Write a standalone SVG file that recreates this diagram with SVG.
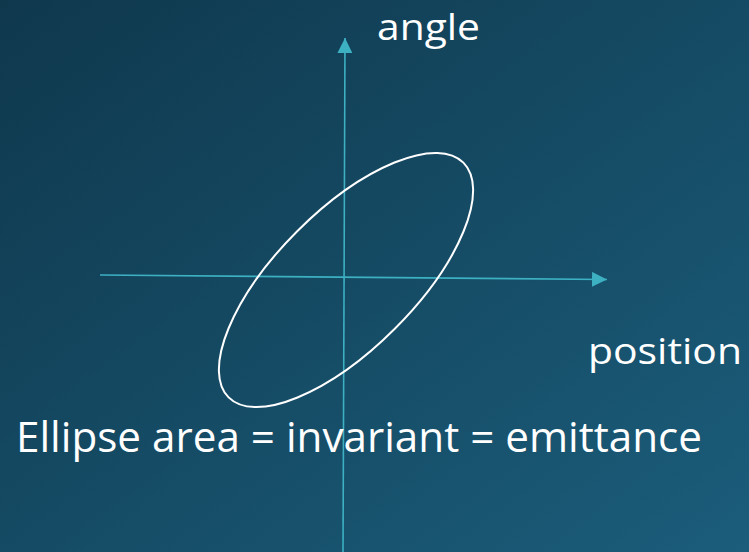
<svg xmlns="http://www.w3.org/2000/svg" width="749" height="552" viewBox="0 0 749 552">
<style>
.axis{stroke:#3db0c2;stroke-width:1.6;fill:none}
.lbl{font-family:"Open Sans","Liberation Sans",sans-serif;fill:#ffffff}
</style>
<defs>
<linearGradient id="bg" x1="0" y1="0" x2="1" y2="1">
<stop offset="0" stop-color="#0f384d"/>
<stop offset="1" stop-color="#1b5d7b"/>
</linearGradient>
<marker id="ah" viewBox="0 0 10 10" refX="10" refY="5" markerWidth="15" markerHeight="15" markerUnits="userSpaceOnUse" orient="auto">
<path d="M0,0 L10,5 L0,10 Z" fill="#3db0c2"/>
</marker>
</defs>
<rect width="749" height="552" fill="url(#bg)"/>
<g id="connectors">
<line class="axis" x1="343" y1="552" x2="345" y2="38" marker-end="url(#ah)"/>
<line class="axis" x1="100" y1="275" x2="607" y2="279.5" marker-end="url(#ah)"/>
</g>
<g id="ellipse">
<ellipse cx="346" cy="280" rx="166" ry="69" transform="rotate(-45 346 280)" fill="none" stroke="#ffffff" stroke-width="2"/>
</g>
<g id="label-angle"><text class="lbl" x="377" y="40" font-size="37" textLength="103" lengthAdjust="spacingAndGlyphs">angle</text></g>
<g id="label-position"><text class="lbl" x="588" y="364" font-size="37" textLength="154" lengthAdjust="spacingAndGlyphs">position</text></g>
<g id="label-caption"><text class="lbl" x="16" y="452" font-size="42" textLength="686" lengthAdjust="spacingAndGlyphs">Ellipse area = invariant = emittance</text></g>
</svg>
